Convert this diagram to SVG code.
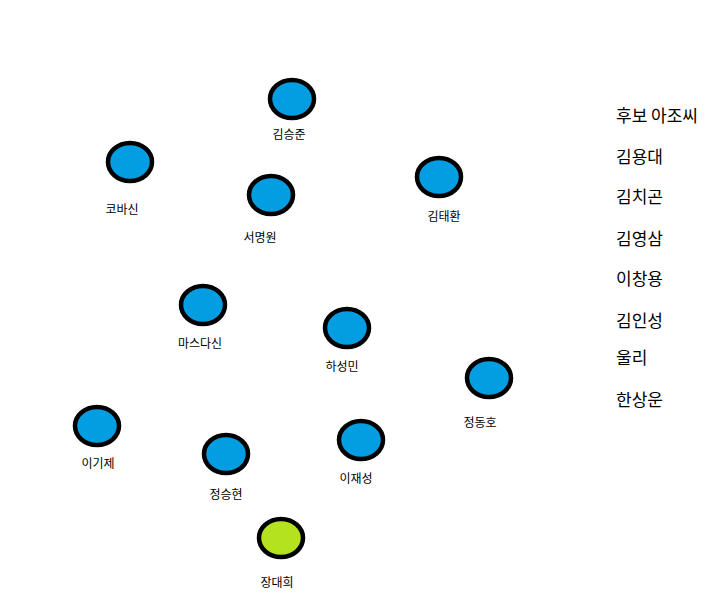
<svg xmlns="http://www.w3.org/2000/svg" width="717" height="603" viewBox="0 0 717 603">
<style>
.n{fill:#039de2;stroke:#000;stroke-width:4.5}
.g{fill:#b5e21f;stroke:#000;stroke-width:4.5}
.l{font-family:"Noto Sans CJK KR",sans-serif;font-size:12px;text-anchor:middle;fill:#000}
.r{font-family:"Noto Sans CJK KR",sans-serif;font-size:17px;fill:#000}
</style>
<rect width="717" height="603" fill="#fff"/>
<g id="connectors"></g>
<g id="n1"><ellipse class="n" cx="292" cy="99" rx="22" ry="19"/><text class="l" x="289" y="139">김승준</text></g>
<g id="n2"><ellipse class="n" cx="130" cy="162" rx="22" ry="19"/><text class="l" x="122" y="214">코바신</text></g>
<g id="n3"><ellipse class="n" cx="271" cy="195" rx="22" ry="19"/><text class="l" x="260" y="242">서명원</text></g>
<g id="n4"><ellipse class="n" cx="439" cy="177" rx="22" ry="19"/><text class="l" x="444" y="221">김태환</text></g>
<g id="n5"><ellipse class="n" cx="203" cy="305" rx="22" ry="19"/><text class="l" x="200" y="348">마스다신</text></g>
<g id="n6"><ellipse class="n" cx="347" cy="328" rx="22" ry="19"/><text class="l" x="342" y="371">하성민</text></g>
<g id="n7"><ellipse class="n" cx="489" cy="378" rx="22" ry="19"/><text class="l" x="480" y="427">정동호</text></g>
<g id="n8"><ellipse class="n" cx="97" cy="426" rx="22" ry="19"/><text class="l" x="98" y="468">이기제</text></g>
<g id="n9"><ellipse class="n" cx="226" cy="454" rx="22" ry="19"/><text class="l" x="226" y="499">정승현</text></g>
<g id="n10"><ellipse class="n" cx="361" cy="440" rx="22" ry="19"/><text class="l" x="356" y="483">이재성</text></g>
<g id="n11"><ellipse class="g" cx="281" cy="538" rx="22" ry="19"/><text class="l" x="277" y="587">장대희</text></g>
<g id="list">
<text class="r" x="616" y="122">후보 아조씨</text>
<text class="r" x="616" y="163">김용대</text>
<text class="r" x="616" y="203">김치곤</text>
<text class="r" x="616" y="245">김영삼</text>
<text class="r" x="616" y="285">이창용</text>
<text class="r" x="616" y="327">김인성</text>
<text class="r" x="616" y="364">울리</text>
<text class="r" x="616" y="406">한상운</text>
</g>
</svg>
